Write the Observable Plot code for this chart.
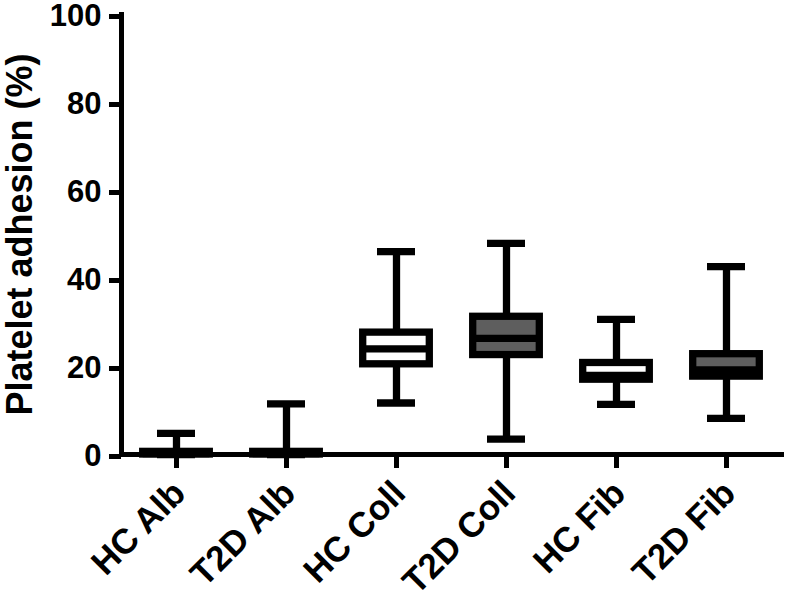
<!DOCTYPE html>
<html><head><meta charset="utf-8">
<script src="https://cdn.jsdelivr.net/npm/d3@7"></script>
<script src="https://cdn.jsdelivr.net/npm/@observablehq/plot@0.6"></script>
<style>body{margin:0;background:#fff} svg{display:block}</style>
</head><body><div id="chart"></div>
<script>
const groups = ["HC Alb", "T2D Alb", "HC Coll", "T2D Coll", "HC Fib", "T2D Fib"];
const cohort = ["HC", "T2D", "HC", "T2D", "HC", "T2D"];
const whiskerMin = [0, 0, 11.7, 3.5, 11.4, 8.2];
const q1 = [0, 0, 20.5, 22.6, 17.0, 17.7];
const median = [0.2, 0.2, 24.0, 26.4, 18.0, 19.2];
const q3 = [0.6, 0.6, 27.7, 31.3, 20.8, 22.8];
const whiskerMax = [4.8, 11.5, 46.1, 48.0, 30.7, 42.7];
const yTicks = [0, 20, 40, 60, 80, 100];
const yLabel = "Platelet adhesion (%)";
const boxFill = {HC: "#ffffff", T2D: "#5e5e5e"};

const rows = groups.map((g, i) => ({
  group: g, cohort: cohort[i], min: whiskerMin[i], q1: q1[i],
  median: median[i], q3: q3[i], max: whiskerMax[i]
}));
const hcRows = rows.filter(d => d.cohort === "HC");
const t2dRows = rows.filter(d => d.cohort === "T2D");

const font = "'Liberation Sans', Arial, Helvetica, sans-serif";
const SW = 7.3;

const chart = Plot.plot({
  width: 787, height: 590,
  marginLeft: 121, marginRight: 6, marginTop: 14, marginBottom: 136,
  style: {fontFamily: font, fontWeight: "bold", color: "#000", background: "#fff"},
  x: {domain: groups, padding: 0, label: null},
  y: {domain: [0, 100], label: null},
  marks: [
    Plot.axisY({ticks: yTicks, tickSize: 12, tickPadding: 8, dy: 2, fontSize: 31, fontWeight: "bold", strokeWidth: 5, label: null}),
    Plot.axisX({tickSize: 14, strokeWidth: 5, tickFormat: () => "", label: null}),
    Plot.axisX({tickSize: 0, tickPadding: 18, tickRotate: -45, dx: 3, dy: 15, fontSize: 35, fontWeight: "bold", label: null}),
    Plot.ruleX(rows, {x: "group", y1: "min", y2: "max", stroke: "black", strokeWidth: SW}),
    Plot.tickY(rows, {x: "group", y: "min", stroke: "black", strokeWidth: SW, inset: 36}),
    Plot.tickY(rows, {x: "group", y: "max", stroke: "black", strokeWidth: SW, inset: 36}),
    Plot.barY(hcRows, {x: "group", y1: "q1", y2: "q3", fill: boxFill.HC, stroke: "black", strokeWidth: SW, insetLeft: 21.7, insetRight: 21.7}),
    Plot.barY(t2dRows, {x: "group", y1: "q1", y2: "q3", fill: boxFill.T2D, stroke: "black", strokeWidth: SW, insetLeft: 21.7, insetRight: 21.7}),
    Plot.tickY(rows, {x: "group", y: "median", stroke: "black", strokeWidth: SW, inset: 21.7}),
    Plot.frame({anchor: "left", stroke: "black", strokeWidth: 5, strokeLinecap: "square"}),
    Plot.frame({anchor: "bottom", stroke: "black", strokeWidth: 5}),
    Plot.text([yLabel], {frameAnchor: "left", textAnchor: "middle", dx: -101, rotate: -90, fontSize: 36, fontWeight: "bold", fill: "black"})
  ]
});
document.getElementById("chart").appendChild(chart);
</script>
</body></html>
